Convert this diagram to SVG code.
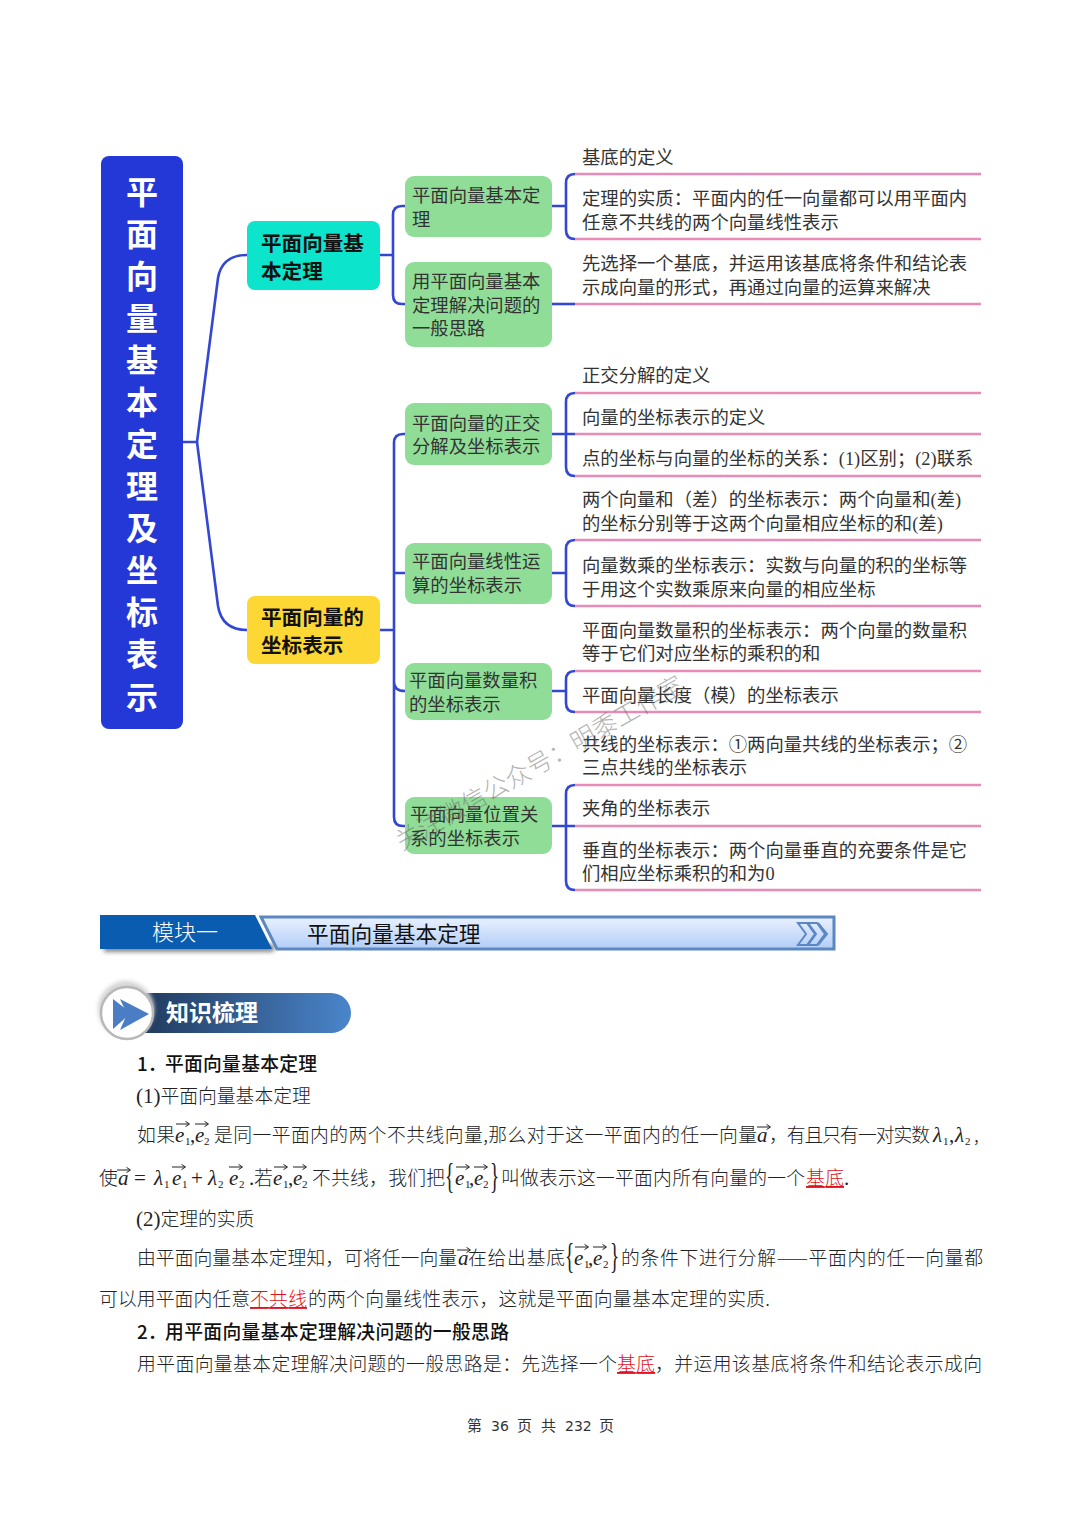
<svg xmlns="http://www.w3.org/2000/svg" width="1080" height="1528" viewBox="0 0 1080 1528">
<style>
text{font-family:"Noto Sans CJK SC","Noto Sans",sans-serif;white-space:pre}
.root{font-size:32px;font-weight:700;fill:#fff;text-anchor:middle}
.br{font-size:20.6px;font-weight:700;fill:#111}
.nd{font-size:18.35px;fill:#333}
.lf{font-size:18.35px;fill:#333}
.lfs{font-family:"Liberation Serif","Noto Sans CJK SC",serif}
.bd{font-size:18.8px;fill:#222;font-weight:300}
.hd{font-size:18.8px;fill:#111;font-weight:500}
.red{fill:#e01020;text-decoration:underline}
.m{font-family:"Liberation Serif",serif;font-style:italic;font-size:21px;fill:#222}
.s{font-family:"Liberation Serif",serif;font-size:11px;fill:#222}
.p{font-family:"Liberation Serif",serif;font-size:21px;fill:#222}
.br2{font-family:"Liberation Serif",serif;font-size:24px;fill:#222}
.f{font-size:15px;fill:#333}
.fd{font-family:"DejaVu Sans",sans-serif;font-size:14px;fill:#333}
.blue{fill:none;stroke:#3347d2;stroke-width:2.6;stroke-linejoin:round}
.pink{fill:none;stroke:#e88bb6;stroke-width:2.6}
.g{fill:#90dd98}
</style>
<defs>
<path id="ar" d="M0 0H13M9.5 -2.6L13.5 0L9.5 2.6" fill="none" stroke="#222" stroke-width="1"/>
<linearGradient id="bar" x1="0" y1="0" x2="0" y2="1"><stop offset="0" stop-color="#eaf1fe"/><stop offset="1" stop-color="#b2cdf8"/></linearGradient>
<linearGradient id="pill" x1="0" y1="0" x2="1" y2="0"><stop offset="0" stop-color="#1e3454"/><stop offset="1" stop-color="#4a85cb"/></linearGradient>
<filter id="bl" x="-20%" y="-50%" width="140%" height="200%"><feGaussianBlur stdDeviation="2"/></filter>
</defs>
<rect width="1080" height="1528" fill="#fff"/>

<g id="connectors">
<path class="blue" d="M183 442H197L218 278Q222 255 247 255"/>
<path class="blue" d="M197 442L218 606Q222 630 247 630"/>
<path class="blue" d="M380 255H393M405 206H402Q393 206 393 215V295Q393 304 402 304H405"/>
<path class="blue" d="M380 630H394M405 434H403Q394 434 394 443V817Q394 826 403 826H405M394 573H405M394 682Q394 691 405 691"/>
<path class="blue" d="M552 206H566M575 174Q566 174 566 183V230Q566 239 575 239"/>
<path class="blue" d="M552 304H575"/>
<path class="blue" d="M552 434H575M575 393Q566 393 566 402V467Q566 476 575 476"/>
<path class="blue" d="M552 573H566M575 540Q566 540 566 549V597Q566 606 575 606"/>
<path class="blue" d="M552 691H566M575 671Q566 671 566 680V703Q566 712 575 712"/>
<path class="blue" d="M552 826H575M575 785Q566 785 566 794V881Q566 890 575 890"/>
<path class="pink" d="M575 174H981M575 239H981M575 304H981M575 393H981M575 434H981M575 476H981M575 540H981M575 606H981M575 671H981M575 712H981M575 785H981M575 826H981M575 890H981"/>
</g>

<g id="root"><rect x="101" y="156" width="82" height="573" rx="8" fill="#2438d8"/>
<text class="root" x="142" y="204">平</text><text class="root" x="142" y="246">面</text><text class="root" x="142" y="288">向</text><text class="root" x="142" y="330">量</text><text class="root" x="142" y="372">基</text><text class="root" x="142" y="414">本</text><text class="root" x="142" y="456">定</text><text class="root" x="142" y="498">理</text><text class="root" x="142" y="540">及</text><text class="root" x="142" y="582">坐</text><text class="root" x="142" y="624">标</text><text class="root" x="142" y="666">表</text><text class="root" x="142" y="709">示</text></g>

<g id="b1"><rect x="247" y="221" width="133" height="69" rx="8" fill="#0ce4cc"/><text class="br" x="261" y="251">平面向量基</text><text class="br" x="261" y="279">本定理</text></g>
<g id="b2"><rect x="247" y="596" width="133" height="68" rx="8" fill="#fdd835"/><text class="br" x="261" y="625">平面向量的</text><text class="br" x="261" y="653">坐标表示</text></g>

<g id="n1"><rect class="g" x="405" y="176" width="147" height="61" rx="9"/><text class="nd" x="412" y="202">平面向量基本定</text><text class="nd" x="412" y="226">理</text></g>
<g id="n2"><rect class="g" x="405" y="262" width="147" height="85" rx="9"/><text class="nd" x="412" y="288">用平面向量基本</text><text class="nd" x="412" y="312">定理解决问题的</text><text class="nd" x="412" y="335">一般思路</text></g>
<g id="n3"><rect class="g" x="405" y="403" width="147" height="62" rx="9"/><text class="nd" x="412" y="430">平面向量的正交</text><text class="nd" x="412" y="453">分解及坐标表示</text></g>
<g id="n4"><rect class="g" x="405" y="543" width="147" height="61" rx="9"/><text class="nd" x="412" y="568">平面向量线性运</text><text class="nd" x="412" y="592">算的坐标表示</text></g>
<g id="n5"><rect class="g" x="405" y="663" width="147" height="57" rx="9"/><text class="nd" x="409" y="687">平面向量数量积</text><text class="nd" x="409" y="711">的坐标表示</text></g>
<g id="n6"><rect class="g" x="405" y="797" width="147" height="57" rx="9"/><text class="nd" x="410" y="821">平面向量位置关</text><text class="nd" x="410" y="845">系的坐标表示</text></g>

<g id="leaves">
<text class="lf" x="582" y="164">基底的定义</text>
<text class="lf" x="582" y="205">定理的实质：平面内的任一向量都可以用平面内</text>
<text class="lf" x="582" y="229">任意不共线的两个向量线性表示</text>
<text class="lf" x="582" y="270">先选择一个基底，并运用该基底将条件和结论表</text>
<text class="lf" x="582" y="294">示成向量的形式，再通过向量的运算来解决</text>
<text class="lf" x="582" y="382">正交分解的定义</text>
<text class="lf" x="582" y="424">向量的坐标表示的定义</text>
<text class="lf" x="582" y="465">点的坐标与向量的坐标的关系：<tspan class="lfs">(1)</tspan>区别；<tspan class="lfs">(2)</tspan>联系</text>
<text class="lf" x="582" y="506">两个向量和（差）的坐标表示：两个向量和<tspan class="lfs">(</tspan>差<tspan class="lfs">)</tspan></text>
<text class="lf" x="582" y="530">的坐标分别等于这两个向量相应坐标的和<tspan class="lfs">(</tspan>差<tspan class="lfs">)</tspan></text>
<text class="lf" x="582" y="572">向量数乘的坐标表示：实数与向量的积的坐标等</text>
<text class="lf" x="582" y="596">于用这个实数乘原来向量的相应坐标</text>
<text class="lf" x="582" y="637">平面向量数量积的坐标表示：两个向量的数量积</text>
<text class="lf" x="582" y="660">等于它们对应坐标的乘积的和</text>
<text class="lf" x="582" y="702">平面向量长度（模）的坐标表示</text>
<text class="lf" x="582" y="751">共线的坐标表示：①两向量共线的坐标表示；②</text>
<text class="lf" x="582" y="774">三点共线的坐标表示</text>
<text class="lf" x="582" y="815">夹角的坐标表示</text>
<text class="lf" x="582" y="857">垂直的坐标表示：两个向量垂直的充要条件是它</text>
<text class="lf" x="582" y="880">们相应坐标乘积的和为<tspan class="lfs">0</tspan></text>
</g>

<g id="watermark"><text transform="translate(402,851) rotate(-29.5)" font-size="25" font-weight="300" fill="#666" fill-opacity=".5" textLength="326">关注微信公众号：明黍工作室</text></g>

<g id="banner">
<polygon points="104,952 272,952 276,948 272,944 104,944" fill="#888" filter="url(#bl)"/>
<polygon points="100,915 255,915 272,949 100,949" fill="#0a5cb0"/>
<polygon points="261,917 834,917 834,949 277,949" fill="url(#bar)" stroke="#5b88c2" stroke-width="3"/>
<g fill="none" stroke="#5b88c2" stroke-width="2"><path d="M798 923H807L815 934L807 945H798L806 934Z"/><path d="M808 923H817L825 934L817 945H808L816 934Z"/><path d="M818 923L827 934L818 945"/></g>
<text x="152" y="940" font-size="22" fill="#fff" font-weight="300">模块一</text>
<text x="307" y="942" font-size="21.7" fill="#111">平面向量基本定理</text>
</g>

<g id="pill">
<path d="M125 993H331A20 20 0 0 1 331 1033H125Z" fill="url(#pill)"/>
<circle cx="126" cy="1009" r="28" fill="#d4d4d4" filter="url(#bl)"/>
<circle cx="127" cy="1013" r="26" fill="#fff" stroke="#b8b8b8" stroke-width="2.5"/>
<polygon points="113,999 131,1013 113,1029" fill="#4a7dc4"/>
<polygon points="120,999 149,1014 120,1030 127,1014" fill="#4a7dc4"/>
<text x="166" y="1021" font-size="23" font-weight="700" fill="#fff">知识梳理</text>
</g>

<g id="body">
<text class="hd" x="137" y="1071">1．</text><text class="hd" x="165" y="1071" textLength="152">平面向量基本定理</text>
<text class="bd" x="136" y="1103"><tspan class="p" font-size="19">(1)</tspan>平面向量基本定理</text>

<text class="bd" x="137" y="1142" textLength="38">如果</text>
<text class="m" x="175" y="1142">e</text><text class="s" x="185" y="1145">1</text><text class="p" x="190" y="1142">,</text><text class="m" x="195" y="1142">e</text><text class="s" x="204" y="1145">2</text>
<use href="#ar" x="176" y="1124"/><use href="#ar" x="195" y="1124"/>
<text class="bd" x="214" y="1142" textLength="543">是同一平面内的两个不共线向量,那么对于这一平面内的任一向量</text>
<text class="m" x="757" y="1142">a</text><use href="#ar" x="757" y="1127"/>
<text class="bd" x="769" y="1142" textLength="161">，有且只有一对实数</text>
<text class="m" x="933" y="1142">λ</text><text class="s" x="943" y="1145">1</text><text class="p" x="949" y="1142">,</text><text class="m" x="955" y="1142">λ</text><text class="s" x="965" y="1145">2</text><text class="bd" x="974" y="1142">,</text>

<text class="bd" x="99" y="1185">使</text>
<text class="m" x="118" y="1185">a</text><use href="#ar" x="117" y="1170"/><text class="p" x="134" y="1185">=</text>
<text class="m" x="154" y="1185">λ</text><text class="s" x="164" y="1188">1</text><text class="m" x="172" y="1185">e</text><use href="#ar" x="172" y="1167"/><text class="s" x="182" y="1188">1</text>
<text class="p" x="191" y="1185">+</text><text class="m" x="208" y="1185">λ</text><text class="s" x="218" y="1188">2</text><text class="m" x="229" y="1185">e</text><use href="#ar" x="229" y="1167"/><text class="s" x="239" y="1188">2</text><text class="p" x="249" y="1185">.</text>
<text class="bd" x="254" y="1185">若</text>
<text class="m" x="273" y="1185">e</text><text class="s" x="283" y="1188">1</text><text class="p" x="288" y="1185">,</text><text class="m" x="293" y="1185">e</text><text class="s" x="302" y="1188">2</text><use href="#ar" x="274" y="1167"/><use href="#ar" x="293" y="1167"/>
<text class="bd" x="312" y="1185" textLength="133">不共线，我们把</text>
<text class="br2" transform="translate(445,1188) scale(.8,1.5)">{</text>
<text class="m" x="455" y="1185">e</text><text class="s" x="465" y="1188">1</text><text class="p" x="469" y="1185">,</text><text class="m" x="474" y="1185">e</text><text class="s" x="483" y="1188">2</text><use href="#ar" x="456" y="1167"/><use href="#ar" x="474" y="1167"/>
<text class="br2" transform="translate(490,1188) scale(.8,1.5)">}</text>
<text class="bd" x="501" y="1185" textLength="304">叫做表示这一平面内所有向量的一个</text>
<text class="bd red" x="806" y="1185" textLength="38">基底</text><text class="p" x="844" y="1185">.</text>

<text class="bd" x="136" y="1226"><tspan class="p" font-size="19">(2)</tspan>定理的实质</text>

<text class="bd" x="137" y="1265" textLength="320">由平面向量基本定理知，可将任一向量</text>
<text class="m" x="458" y="1265">a</text><use href="#ar" x="457" y="1250"/>
<text class="bd" x="468" y="1265" textLength="97">在给出基底</text>
<text class="br2" transform="translate(565,1268) scale(.8,1.5)">{</text>
<text class="m" x="574" y="1265">e</text><text class="s" x="584" y="1268">1</text><text class="p" x="588" y="1265">,</text><text class="m" x="593" y="1265">e</text><text class="s" x="603" y="1268">2</text><use href="#ar" x="575" y="1247"/><use href="#ar" x="593" y="1247"/>
<text class="br2" transform="translate(610,1268) scale(.8,1.5)">}</text>
<text class="bd" x="621" y="1265" textLength="362">的条件下进行分解——平面内的任一向量都</text>

<text class="bd" x="99" y="1306" textLength="151">可以用平面内任意</text>
<text class="bd red" x="250" y="1306" textLength="57">不共线</text>
<text class="bd" x="308" y="1306" textLength="462">的两个向量线性表示，这就是平面向量基本定理的实质.</text>

<text class="hd" x="137" y="1339">2．</text><text class="hd" x="165" y="1339" textLength="344">用平面向量基本定理解决问题的一般思路</text>

<text class="bd" x="137" y="1371" textLength="480">用平面向量基本定理解决问题的一般思路是：先选择一个</text>
<text class="bd red" x="617" y="1371" textLength="38">基底</text>
<text class="bd" x="655" y="1371" textLength="327">，并运用该基底将条件和结论表示成向</text>
</g>

<g id="footer"><text class="f" x="467" y="1431">第</text><text class="fd" x="491" y="1431">36</text><text class="f" x="517" y="1431">页</text><text class="f" x="541" y="1431">共</text><text class="fd" x="565" y="1431">232</text><text class="f" x="599" y="1431">页</text></g>
</svg>
